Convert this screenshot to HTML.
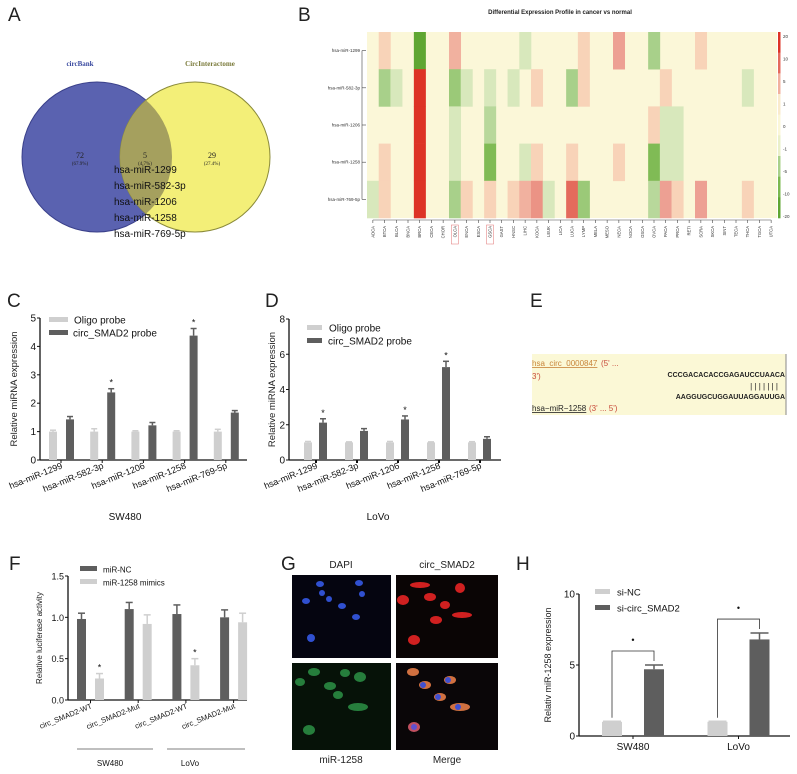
<!DOCTYPE html>
<html><head><meta charset="utf-8"><style>
html,body{margin:0;padding:0;background:#fff;}
svg{display:block;font-family:"Liberation Sans",sans-serif;}
</style></head><body>
<svg id="fig" width="797" height="774" viewBox="0 0 797 774">
<g font-size="19" fill="#222">
<text x="8" y="21">A</text><text x="298" y="21">B</text><text x="7" y="307">C</text><text x="265" y="307">D</text>
<text x="530" y="307">E</text><text x="9" y="570">F</text><text x="281" y="570">G</text><text x="516" y="570">H</text>
</g>
<g>
<circle cx="97" cy="157" r="75" fill="#5a62b0" stroke="#3a408a" stroke-width="1"/>
<circle cx="195" cy="157" r="75" fill="#f3ef78" stroke="#8a8a3a" stroke-width="1"/>
<clipPath id="lc"><circle cx="97" cy="157" r="75"/></clipPath>
<circle cx="195" cy="157" r="75" fill="#a5a05e" clip-path="url(#lc)"/>
<text x="80" y="66" font-family="Liberation Serif,serif" font-size="7" fill="#3a4aa0" font-weight="bold" text-anchor="middle">circBank</text>
<text x="210" y="66" font-family="Liberation Serif,serif" font-size="7" fill="#7a7a3a" font-weight="bold" text-anchor="middle">CircInteractome</text>
<g font-family="Liberation Serif,serif" text-anchor="middle" fill="#222">
<text x="80" y="158" font-size="8">72</text><text x="80" y="165" font-size="5">(67.9%)</text>
<text x="145" y="158" font-size="8">5</text><text x="145" y="165" font-size="5">(4.7%)</text>
<text x="212" y="158" font-size="8">29</text><text x="212" y="165" font-size="5">(27.4%)</text>
</g>
<g font-size="10" fill="#111">
<text x="114" y="173">hsa-miR-1299</text><text x="114" y="189">hsa-miR-582-3p</text><text x="114" y="205">hsa-miR-1206</text><text x="114" y="221">hsa-miR-1258</text><text x="114" y="237">hsa-miR-769-5p</text>
</g>
</g>
<g id="heat">
<text x="560" y="14" font-size="6" font-weight="bold" text-anchor="middle" fill="#222">Differential Expression Profile in cancer vs normal</text>
</g>
<g>
<rect x="532" y="354" width="254" height="61" fill="#fbf8d6"/>
<line x1="786" y1="354" x2="786" y2="415" stroke="#888" stroke-width="1"/>
<text x="532" y="366" font-size="8" fill="#c8843a" text-decoration="underline">hsa_circ_0000847</text>
<text x="601" y="366" font-size="8" fill="#c84a3a">(5' ...</text>
<text x="532" y="379" font-size="8" fill="#c84a3a">3')</text>
<text x="785" y="377" font-size="7" font-weight="bold" text-anchor="end" fill="#222">CCCGACACACCGAGAUCCUAACA</text>
<text x="778" y="389" font-size="8" text-anchor="end" fill="#222">| | | | | | |</text>
<text x="785" y="399" font-size="7" font-weight="bold" text-anchor="end" fill="#222">AAGGUGCUGGAUUAGGAUUGA</text>
<text x="532" y="411" font-size="8" fill="#222" text-decoration="underline">hsa−miR−1258</text>
<text x="589" y="411" font-size="8" fill="#c84a3a">(3' ... 5')</text>
</g>
<g>
<text x="341" y="568" font-size="10" text-anchor="middle" fill="#222">DAPI</text>
<text x="447" y="568" font-size="10" text-anchor="middle" fill="#222">circ_SMAD2</text>
<text x="341" y="763" font-size="10" text-anchor="middle" fill="#222">miR-1258</text>
<text x="447" y="763" font-size="10" text-anchor="middle" fill="#222">Merge</text>
<rect x="292" y="575" width="99" height="83" fill="#050510"/>
<rect x="396" y="575" width="102" height="83" fill="#0a0505"/>
<rect x="292" y="663" width="99" height="87" fill="#061208"/>
<rect x="396" y="663" width="102" height="87" fill="#0a0608"/>
<g fill="#3050d0">
<ellipse cx="320" cy="584" rx="4" ry="3"/><ellipse cx="359" cy="583" rx="4" ry="3"/><ellipse cx="362" cy="594" rx="3" ry="3"/>
<ellipse cx="322" cy="593" rx="3" ry="3"/><ellipse cx="329" cy="599" rx="3" ry="3"/><ellipse cx="306" cy="601" rx="4" ry="3"/>
<ellipse cx="342" cy="606" rx="4" ry="3"/><ellipse cx="356" cy="617" rx="4" ry="3"/><ellipse cx="311" cy="638" rx="4" ry="4"/>
</g>
<g fill="#d02020">
<ellipse cx="420" cy="585" rx="10" ry="3"/><ellipse cx="460" cy="588" rx="5" ry="5"/><ellipse cx="403" cy="600" rx="6" ry="5"/>
<ellipse cx="430" cy="597" rx="6" ry="4"/><ellipse cx="445" cy="605" rx="5" ry="4"/><ellipse cx="462" cy="615" rx="10" ry="3"/>
<ellipse cx="414" cy="640" rx="6" ry="5"/><ellipse cx="436" cy="620" rx="6" ry="4"/>
</g>
<g fill="#2f9a4a" opacity="0.8">
<ellipse cx="314" cy="672" rx="6" ry="4"/><ellipse cx="345" cy="673" rx="5" ry="4"/><ellipse cx="360" cy="677" rx="6" ry="5"/>
<ellipse cx="300" cy="682" rx="5" ry="4"/><ellipse cx="330" cy="686" rx="6" ry="4"/><ellipse cx="338" cy="695" rx="5" ry="4"/>
<ellipse cx="358" cy="707" rx="10" ry="4"/><ellipse cx="309" cy="730" rx="6" ry="5"/>
</g>
<g>
<ellipse cx="413" cy="672" rx="6" ry="4" fill="#d07040"/><ellipse cx="425" cy="685" rx="6" ry="4" fill="#d07040"/><ellipse cx="450" cy="680" rx="6" ry="4" fill="#d07040"/>
<ellipse cx="440" cy="697" rx="6" ry="4" fill="#d07040"/><ellipse cx="460" cy="707" rx="10" ry="4" fill="#d07040"/><ellipse cx="414" cy="727" rx="6" ry="5" fill="#c05060"/>
<ellipse cx="423" cy="685" rx="3" ry="3" fill="#4050d0"/><ellipse cx="448" cy="680" rx="3" ry="3" fill="#4050d0"/><ellipse cx="438" cy="697" rx="3" ry="3" fill="#4050d0"/><ellipse cx="458" cy="707" rx="3" ry="3" fill="#4050d0"/><ellipse cx="414" cy="727" rx="3" ry="3" fill="#6050d0"/>
</g>
</g>
<g id="charts"></g>
</svg>
<script>
const NS="http://www.w3.org/2000/svg";
function mk(parent,tag,attrs,text){const e=document.createElementNS(NS,tag);for(const k in attrs)e.setAttribute(k,attrs[k]);if(text!==undefined)e.textContent=text;parent.appendChild(e);return e;}

const heatCols=["ADCA","BTCA","BLCA","BNCA","BRCA","CECA","CHOR","OLCA","ENCA","ESCA","GSCA","GAST","HNSC","LIHC","KOCA","LEUK","LICA","LUCA","LYMP","MELA","MESO","NECA","NOCA","OSCA","OVCA","PACA","PRCA","RETI","SCRA","SKCA","SINT","TECA","THCA","TGCA","UTCA"];
const heatRows=["hsa-miR-1299","hsa-miR-582-3p","hsa-miR-1206","hsa-miR-1258","hsa-miR-769-5p"];
const heatRow1299={BTCA:3,BRCA:-20,OLCA:5,LIHC:-2,LYMP:3,NECA:6,OVCA:-5,SCRA:3};
const heatRow582={BTCA:-5,BLCA:-2,BRCA:20,OLCA:-6,ENCA:-2,GSCA:-2,HNSC:-2,KOCA:3,LUCA:-5,LYMP:3,PACA:3,THCA:-2};
const heatRow1206={BRCA:20,OLCA:-2,GSCA:-4,OVCA:3,PACA:-2,PRCA:-2};
const heatRow1258={BTCA:3,BRCA:20,OLCA:-2,GSCA:-8,LIHC:-2,KOCA:3,LUCA:3,NECA:3,OVCA:-8,PACA:-2,PRCA:-2};
const heatRow769={ADCA:-2,BTCA:3,BRCA:20,OLCA:-5,ENCA:3,GSCA:3,HNSC:3,LIHC:5,KOCA:7,LEUK:-2,LUCA:10,LYMP:-6,OVCA:-4,PACA:6,PRCA:3,SCRA:6,THCA:3};
const colorTicks=["20","10","5","1","0","-1","-5","-10","-20"];

const mirCats=["hsa-miR-1299","hsa-miR-582-3p","hsa-miR-1206","hsa-miR-1258","hsa-miR-769-5p"];
const cOligo=[1,1,1,1,1], cOligoErr=[0.05,0.1,0.03,0.03,0.08];
const cCirc=[1.43,2.38,1.22,4.38,1.67], cCircErr=[0.1,0.13,0.1,0.25,0.07];
const cStar=[false,true,false,true,false];
const dOligo=[1,1,1,1,1], dOligoErr=[0.05,0.03,0.05,0.03,0.04];
const dCirc=[2.12,1.65,2.3,5.27,1.2], dCircErr=[0.22,0.13,0.2,0.33,0.12];
const dStar=[true,false,true,true,false];
const fCats=["circ_SMAD2-WT","circ_SMAD2-Mut","circ_SMAD2-WT","circ_SMAD2-Mut"];
const fNC=[0.98,1.1,1.04,1.0], fNCErr=[0.07,0.08,0.11,0.09];
const fMim=[0.26,0.92,0.42,0.94], fMimErr=[0.06,0.11,0.08,0.11];
const fStar=[true,false,true,false];
const hCats=["SW480","LoVo"];
const hNC=[1,1], hNCErr=[0.04,0.04];
const hSi=[4.7,6.8], hSiErr=[0.3,0.45];

(function(){
  const g=document.getElementById('heat');
  const x0=367,x1=777,y0=32,y1=218;
  const cw=(x1-x0)/heatCols.length, rh=(y1-y0)/heatRows.length;
  const rowsData=[heatRow1299,heatRow582,heatRow1206,heatRow1258,heatRow769];
  const stops=[[-20,[95,166,50]],[-8,[128,187,85]],[-5,[168,208,138]],[-2,[216,232,188]],[0,[251,247,216]],[3,[248,211,184]],[6,[237,160,147]],[10,[228,106,92]],[20,[221,51,38]]];
  function col(v){for(let i=0;i<stops.length-1;i++){const a=stops[i],b=stops[i+1];if(v<=b[0]){const t=(v-a[0])/(b[0]-a[0]);const c=a[1].map((q,k)=>Math.round(q+(b[1][k]-q)*Math.max(0,Math.min(1,t))));return `rgb(${c})`;}}return 'rgb(221,51,38)';}
  mk(g,'rect',{x:x0,y:y0,width:x1-x0,height:y1-y0,fill:col(0)});
  rowsData.forEach((row,r)=>{
    heatCols.forEach((c,i)=>{
      const v=row[c]||0; if(!v) return;
      const e=mk(g,'rect',{x:x0+i*cw,y:y0+r*rh,width:cw+0.3,height:rh+0.3,fill:col(v)});
      
      
    });
    const yc=y0+(r+0.5)*rh;
    mk(g,'line',{x1:362,y1:yc,x2:366,y2:yc,stroke:'#444','stroke-width':0.6});
    mk(g,'text',{x:360,y:yc+1.5,'font-size':4.5,'text-anchor':'end',fill:'#333'},heatRows[r]);
  });
  mk(g,'line',{x1:362,y1:y0+rh/2,x2:362,y2:y1-rh/2,stroke:'#444','stroke-width':0.6});
  mk(g,'line',{x1:x0+cw/2,y1:y1+2,x2:x1-cw/2,y2:y1+2,stroke:'#444','stroke-width':0.6});
  heatCols.forEach((c,i)=>{
    const xc=x0+(i+0.5)*cw;
    mk(g,'line',{x1:xc,y1:y1+2,x2:xc,y2:y1+5,stroke:'#444','stroke-width':0.6});
    mk(g,'text',{x:xc+1.5,y:y1+8,'font-size':4.2,'text-anchor':'end',fill:'#333',transform:`rotate(-90 ${xc+1.5} ${y1+8})`},c);
    if(c==="OLCA"||c==="GSCA") mk(g,'rect',{x:xc-3.5,y:y1+7,width:7,height:19,fill:'none',stroke:'#e07070','stroke-width':0.5});
  });
  const cvals=[20,10,5,1,0,-1,-5,-10,-20];
  const ch=(y1-y0)/cvals.length;
  cvals.forEach((v,i)=>{mk(g,'rect',{x:778,y:y0+i*ch,width:2.5,height:ch+0.3,fill:col(v)});
    mk(g,'text',{x:783,y:y0+6+i*(y1-y0-6)/8,'font-size':4.5,fill:'#333'},colorTicks[i]);});
})();

const charts=document.getElementById('charts');
function barChart(o){
  const g=mk(charts,'g',{});
  
  
  const Y=v=>o.y0-(v/o.ymax)*(o.y0-o.yTop);
  mk(g,'line',{x1:o.x0,y1:o.yTop,x2:o.x0,y2:o.y0,stroke:'#111','stroke-width':1.3});
  mk(g,'line',{x1:o.x0,y1:o.y0,x2:o.xEnd,y2:o.y0,stroke:'#111','stroke-width':1.3});
  o.ticks.forEach((t,i)=>{const y=Y(o.tickVals[i]);
    mk(g,'line',{x1:o.x0-3,y1:y,x2:o.x0,y2:y,stroke:'#111','stroke-width':1});
    mk(g,'text',{x:o.x0-4,y:y+3.5,'font-size':o.tfs||10,'text-anchor':'end',fill:'#111'},t);});
  mk(g,'text',{x:o.ylx,y:(o.y0+o.yTop)/2,'font-size':o.ylfs||9.5,'text-anchor':'middle',fill:'#222',transform:`rotate(-90 ${o.ylx} ${(o.y0+o.yTop)/2})`},o.ylabel);
  o.series.forEach((s,si)=>{
    s.vals.forEach((v,i)=>{
      const xc=o.start+i*o.step+s.off, w=o.bw;
      const r=mk(g,'rect',{x:xc-w/2,y:Y(v),width:w,height:o.y0-Y(v),fill:s.color});
      
      
      const ye=Y(v+s.err[i]);
      mk(g,'line',{x1:xc,y1:Y(v),x2:xc,y2:ye,stroke:s.color,'stroke-width':1.5});
      mk(g,'line',{x1:xc-w/2+1,y1:ye,x2:xc+w/2-1,y2:ye,stroke:s.color,'stroke-width':1.5});
      if(s.star&&s.star[i]) mk(g,'text',{x:xc,y:ye-3,'font-size':9,'text-anchor':'middle',fill:'#111'},'*');
    });
  });
  if(o.cats){o.cats.forEach((c,i)=>{
    const xc=o.start+i*o.step+o.tickOff;
    mk(g,'line',{x1:xc,y1:o.y0,x2:xc,y2:o.y0+3,stroke:'#111','stroke-width':o.tickW||1});
    if(o.rot){mk(g,'text',{x:xc+2,y:o.y0+8,'font-size':o.cfs||9,'text-anchor':'end',fill:'#111',transform:`rotate(-22 ${xc+2} ${o.y0+8})`},c);}
    else mk(g,'text',{x:xc,y:o.y0+14,'font-size':10,'text-anchor':'middle',fill:'#111'},c);
  });}
  o.legend.forEach((l,i)=>{
    mk(g,'rect',{x:l.x,y:l.y-3,width:l.w,height:5,fill:l.color});
    mk(g,'text',{x:l.x+l.w+l.gap,y:l.y+3.5,'font-size':o.lfs||10,fill:'#111'},l.label);
  });
  if(o.xlabel) mk(g,'text',{x:o.xlabel[1],y:o.xlabel[2],'font-size':10,'text-anchor':'middle',fill:'#111'},o.xlabel[0]);
  return {g,Y};
}
const LG="#cfcfcf", DG="#5e5e5e";
barChart({name:'chart-c',x0:40,y0:460,yTop:318,ymax:5,xEnd:247,ticks:["0","1","2","3","4","5"],tickVals:[0,1,2,3,4,5],
  ylabel:"Relative miRNA expression",ylx:17,start:53,step:41.2,bw:8,tickOff:8,rot:true,cats:mirCats,
  series:[{key:'oligo',vals:cOligo,err:cOligoErr,color:LG,off:0},{key:'circ',vals:cCirc,err:cCircErr,color:DG,off:17,star:cStar}],
  legend:[{x:49,y:320,w:19,gap:6,color:LG,label:"Oligo probe"},{x:49,y:333,w:19,gap:5,color:DG,label:" circ_SMAD2 probe"}],
  xlabel:["SW480",125,520]});
barChart({name:'chart-d',x0:289,y0:460,yTop:319,ymax:8,xEnd:501,ticks:["0","2","4","6","8"],tickVals:[0,2,4,6,8],
  ylabel:"Relative miRNA expression",ylx:275,start:308,step:41,bw:8,tickOff:8,tickW:2,rot:true,cats:mirCats,
  series:[{key:'oligo',vals:dOligo,err:dOligoErr,color:LG,off:0},{key:'circ',vals:dCirc,err:dCircErr,color:DG,off:15,star:dStar}],
  legend:[{x:307,y:328,w:15,gap:7,color:LG,label:"Oligo probe"},{x:307,y:341,w:15,gap:6,color:DG,label:" circ_SMAD2 probe"}],
  xlabel:["LoVo",378,520]});
barChart({name:'chart-f',x0:68,y0:700,yTop:576,ymax:1.5,xEnd:247,ticks:["0.0","0.5","1.0","1.5"],tickVals:[0,0.5,1,1.5],tfs:9,
  ylabel:"Relative luciferase activity",ylx:42,ylfs:8,start:81.5,step:47.7,bw:9,tickOff:9,rot:true,cats:fCats,cfs:7.5,lfs:8,
  series:[{key:'mir-nc',vals:fNC,err:fNCErr,color:DG,off:0},{key:'mir-1258-mimics',vals:fMim,err:fMimErr,color:LG,off:18,star:fStar}],
  legend:[{x:80,y:569,w:17,gap:6,color:DG,label:"miR-NC"},{x:80,y:582,w:17,gap:6,color:LG,label:"miR-1258  mimics"}]});
(function(){const g=mk(charts,'g',{});
  mk(g,'line',{x1:77,y1:749,x2:153,y2:749,stroke:'#555','stroke-width':0.8});
  mk(g,'line',{x1:167,y1:749,x2:245,y2:749,stroke:'#555','stroke-width':0.8});
  mk(g,'text',{x:110,y:766,'font-size':8,'text-anchor':'middle',fill:'#111'},'SW480');
  mk(g,'text',{x:190,y:766,'font-size':8,'text-anchor':'middle',fill:'#111'},'LoVo');})();
const H=barChart({name:'chart-h',x0:579,y0:736,yTop:594,ymax:10,xEnd:790,ticks:["0","5","10"],tickVals:[0,5,10],
  ylabel:"Relativ miR-1258 expression",ylx:551,ylfs:9,start:612,step:105.5,bw:20,tickOff:21,cats:hCats,lfs:9.5,
  series:[{key:'si-nc',vals:hNC,err:hNCErr,color:LG,off:0},{key:'si-circ-smad2',vals:hSi,err:hSiErr,color:DG,off:42}],
  legend:[{x:595,y:592,w:15,gap:7,color:LG,label:"si-NC"},{x:595,y:608,w:15,gap:7,color:DG,label:"si-circ_SMAD2"}]});
hCats.forEach((c,i)=>{
  const x1=612+i*105.5, x2=x1+42;
  const top=H.Y(hSi[i]+hSiErr[i])-14;
  const p=mk(H.g,'path',{d:`M${x1} ${H.Y(hNC[i])-4}V${top}H${x2}V${top+10}`,fill:'none',stroke:'#333','stroke-width':0.8});
  
  
  mk(H.g,'text',{x:(x1+x2)/2,y:top-8,'font-size':9,'text-anchor':'middle',fill:'#111'},'•');
});
</script>
</body></html>
